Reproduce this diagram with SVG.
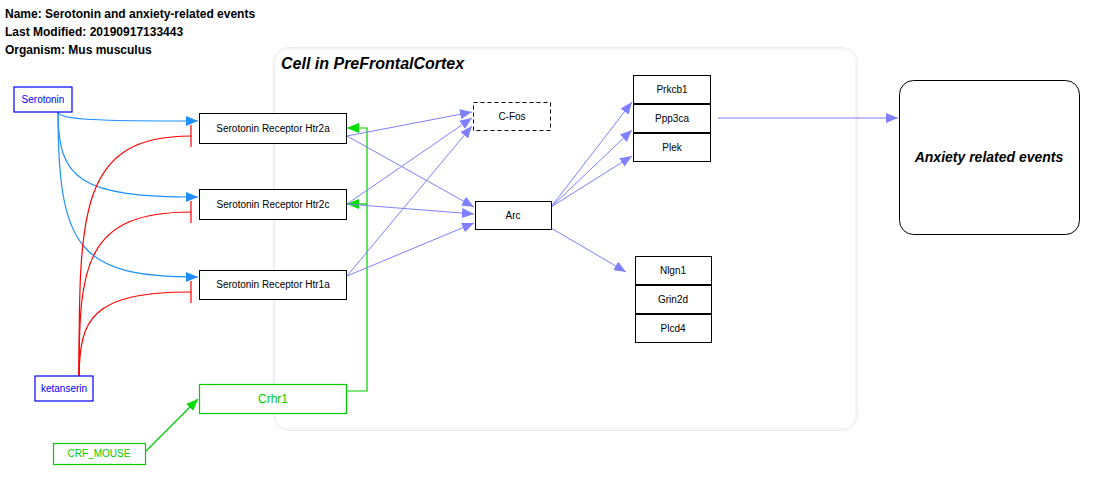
<svg xmlns="http://www.w3.org/2000/svg" width="1111" height="495" viewBox="0 0 1111 495">
<style>
text{font-family:"Liberation Sans",Arial,sans-serif;}
.hdr{font-size:12px;font-weight:bold;fill:#000;}
.lbl{font-size:10px;fill:#000;text-anchor:middle;}
.box{fill:#fff;stroke:#000;stroke-width:1;}
.mol{fill:#fff;stroke:#0000ff;stroke-width:1.2;}
.moltxt{font-size:10px;fill:#0000ff;text-anchor:middle;}
.grn{fill:#fff;stroke:#00cc00;stroke-width:1.2;}
.grntxt{fill:#00cc00;text-anchor:middle;}
.e{fill:none;stroke:#8080ff;stroke-width:1;}
.s{fill:none;stroke:#1e90ff;stroke-width:1.2;}
.r{fill:none;stroke:#ff0000;stroke-width:1.2;}
.g{fill:none;stroke:#00cc00;stroke-width:1.2;}
</style>
<defs>
<marker id="ap" markerWidth="12" markerHeight="10" refX="12" refY="5" orient="auto" markerUnits="userSpaceOnUse"><path d="M0,0 L12,5 L0,10 Z" fill="#8080ff"/></marker>
<marker id="as" markerWidth="12" markerHeight="10" refX="12" refY="5" orient="auto" markerUnits="userSpaceOnUse"><path d="M0,0 L12,5 L0,10 Z" fill="#1e90ff"/></marker>
<marker id="ag" markerWidth="12" markerHeight="10" refX="12" refY="5" orient="auto" markerUnits="userSpaceOnUse"><path d="M0,0 L12,5 L0,10 Z" fill="#00dd00"/></marker>
<marker id="tb" markerWidth="2" markerHeight="22" refX="1" refY="11" orient="auto" markerUnits="userSpaceOnUse"><path d="M1,0 L1,22" stroke="#ff0000" stroke-width="1.2"/></marker>
</defs>
<rect width="1111" height="495" fill="#fff"/>
<text class="hdr" x="5" y="18">Name: Serotonin and anxiety-related events</text>
<text class="hdr" x="5" y="36">Last Modified: 20190917133443</text>
<text class="hdr" x="5" y="54">Organism: Mus musculus</text>

<g id="cell">
<rect x="273.5" y="47.5" width="584" height="383" rx="15" fill="none" stroke="#ececec" stroke-width="1"/>
<rect x="275" y="49" width="581" height="380" rx="13" fill="none" stroke="#f6f6f6" stroke-width="2"/>
<text x="281" y="69" font-size="16" font-weight="bold" font-style="italic" fill="#000">Cell in PreFrontalCortex</text>
</g>

<g id="connectors">
<path class="s" d="M58,112 C58,120 100,121 198,121" marker-end="url(#as)"/>
<path class="s" d="M58,112 C58,180 80,197 198,197" marker-end="url(#as)"/>
<path class="s" d="M58,112 C58,250 80,277 198,277" marker-end="url(#as)"/>
<path class="r" d="M79,376 C79,210 80,136 191,136" marker-end="url(#tb)"/>
<path class="r" d="M79,376 C79,265 85,212 191,212" marker-end="url(#tb)"/>
<path class="r" d="M79,376 C80,320 90,292 191,292" marker-end="url(#tb)"/>
<path class="g" d="M346,391 L367,391 L367,128 L347,128" marker-end="url(#ag)"/>
<path class="g" d="M367,204 L347,204" marker-end="url(#ag)"/>
<path class="g" d="M145,452 L198,399" marker-end="url(#ag)"/>
<path class="e" d="M347,136 L472,112" marker-end="url(#ap)"/>
<path class="e" d="M347,136 L474,207" marker-end="url(#ap)"/>
<path class="e" d="M347,204 L472,118" marker-end="url(#ap)"/>
<path class="e" d="M347,204 L474,214" marker-end="url(#ap)"/>
<path class="e" d="M347,276 L472,126" marker-end="url(#ap)"/>
<path class="e" d="M347,276 L474,223" marker-end="url(#ap)"/>
<path class="e" d="M551,207 L632,102" marker-end="url(#ap)"/>
<path class="e" d="M551,207 L632,130" marker-end="url(#ap)"/>
<path class="e" d="M551,207 L632,156" marker-end="url(#ap)"/>
<path class="e" d="M551,228 L626,272" marker-end="url(#ap)"/>
<path class="e" d="M718,118 L898,118" marker-end="url(#ap)"/>
</g>

<g id="serotonin"><rect class="mol" x="14" y="87" width="58" height="25"/><text class="moltxt" x="43" y="103">Serotonin</text></g>
<g id="ketanserin"><rect class="mol" x="35" y="376" width="58" height="25"/><text class="moltxt" x="64" y="392">ketanserin</text></g>
<g id="htr2a"><rect class="box" x="199.5" y="113.5" width="147" height="30"/><text class="lbl" x="273" y="132">Serotonin Receptor Htr2a</text></g>
<g id="htr2c"><rect class="box" x="199.5" y="189.5" width="147" height="30"/><text class="lbl" x="273" y="208">Serotonin Receptor Htr2c</text></g>
<g id="htr1a"><rect class="box" x="199.5" y="270.5" width="147" height="29"/><text class="lbl" x="273" y="288">Serotonin Receptor Htr1a</text></g>
<g id="crhr1"><rect class="grn" x="199.5" y="384.5" width="147" height="29"/><text class="grntxt" x="273" y="403" font-size="12">Crhr1</text></g>
<g id="crf_mouse"><rect class="grn" x="53.5" y="443.5" width="92" height="21"/><text class="grntxt" x="99" y="457" font-size="10">CRF_MOUSE</text></g>
<g id="cfos"><rect x="473.5" y="102.5" width="77" height="28" fill="#fff" stroke="#000" stroke-dasharray="4,3"/><text class="lbl" x="512" y="120">C-Fos</text></g>
<g id="arc"><rect class="box" x="475.5" y="201.5" width="76" height="28"/><text class="lbl" x="513" y="219">Arc</text></g>
<g id="prkcb1"><rect class="box" x="633.5" y="75.5" width="77" height="28"/><text class="lbl" x="672" y="93">Prkcb1</text></g>
<g id="ppp3ca"><rect class="box" x="633.5" y="104.5" width="77" height="28"/><text class="lbl" x="672" y="122">Ppp3ca</text></g>
<g id="plek"><rect class="box" x="633.5" y="133.5" width="77" height="28"/><text class="lbl" x="672" y="151">Plek</text></g>
<g id="nlgn1"><rect class="box" x="635.5" y="256.5" width="76" height="28"/><text class="lbl" x="673" y="274">Nlgn1</text></g>
<g id="grin2d"><rect class="box" x="635.5" y="285.5" width="76" height="28"/><text class="lbl" x="673" y="303">Grin2d</text></g>
<g id="plcd4"><rect class="box" x="635.5" y="314.5" width="76" height="28"/><text class="lbl" x="673" y="332">Plcd4</text></g>
<g id="anxiety"><rect x="899.5" y="80.5" width="180" height="154" rx="14" fill="#fff" stroke="#000" stroke-width="1"/><text x="989" y="162" font-size="14" font-weight="bold" font-style="italic" text-anchor="middle" fill="#000">Anxiety related events</text></g>
</svg>
